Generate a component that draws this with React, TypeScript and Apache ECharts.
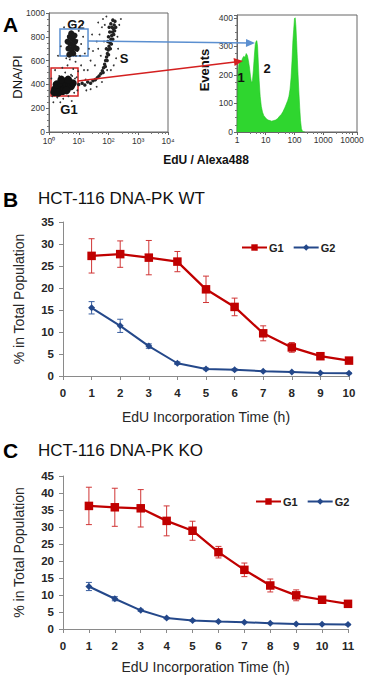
import React, { useEffect, useRef } from 'react';
import * as echarts from 'echarts';

// ---------- Panel A: flow cytometry (EdU / Alexa488 vs DNA/PI) ----------
// dense G1 population core
const g1Core: number[][] = [
  [1.6, 360], [2.0, 385], [2.4, 370], [2.8, 395], [3.2, 365], [3.6, 390], [2.2, 340],
  [2.9, 345], [4.2, 375], [1.8, 400], [2.5, 415], [3.4, 420], [4.8, 400], [1.5, 335],
  [2.0, 330], [5.5, 385], [3.9, 350], [6.3, 410], [2.6, 440], [4.4, 440],
];
// dense G2 population core
const g2Core: number[][] = [
  [4.5, 700], [5.2, 740], [5.8, 690], [6.2, 780], [5.0, 800], [6.8, 720], [4.2, 760],
  [7.5, 760], [5.6, 830], [6.5, 660], [4.8, 650], [8.5, 700], [7.2, 810],
];
// S-phase arc
const sBand: number[][] = [
  [10, 400], [13, 410], [16, 395], [20, 420], [25, 410], [30, 430], [36, 440], [42, 455],
  [48, 470], [55, 490], [62, 515], [68, 540], [74, 570], [80, 600], [86, 630], [92, 660],
  [98, 690], [104, 720], [112, 750], [120, 780], [128, 810], [136, 840], [145, 870],
  [155, 900], [165, 930], [150, 820], [140, 780], [125, 740], [115, 700], [100, 650],
  [90, 600], [78, 550], [66, 500], [175, 880], [160, 850], [130, 880], [110, 840],
  [100, 800], [95, 760], [85, 700], [120, 910], [140, 940], [105, 880],
];
// sparse events
const sparseEvents: number[][] = [
  [1.3, 300], [1.2, 450], [1.9, 290], [3.0, 280], [4.5, 300], [7, 330], [9, 350], [8.5, 460],
  [5.5, 480], [3.5, 500], [6.5, 530], [4.2, 560], [9.5, 510], [7.8, 590], [5, 610], [12, 560],
  [15, 520], [11, 640], [3.8, 620], [9, 680], [12, 740], [14, 800], [10, 850], [3.2, 880],
  [6, 900], [8, 640], [20, 520], [25, 600], [30, 680], [40, 760], [50, 820], [60, 880],
  [45, 700], [35, 560], [55, 640], [70, 760], [75, 900], [65, 950], [85, 970], [200, 800],
  [210, 700], [180, 620], [150, 560], [120, 520], [230, 900], [18, 350], [25, 360], [40, 380],
  [60, 420], [2.2, 470], [1.6, 520], [2.8, 540], [1.4, 250], [2.4, 250], [5.8, 260], [22, 700],
  [28, 820], [16, 660], [9, 770], [2.5, 720], [2.0, 640], [13, 900], [45, 920], [90, 520],
  [260, 950], [17, 440], [7.5, 450], [4, 460], [6, 470],
];
// gates [xMin, yMin, xMax, yMax]
const gateG2 = [2.34, 639, 20.5, 866];
const gateG1 = [1.17, 303, 9.44, 538];

// EdU histogram
const histEdU = [
  1.0, 1.04, 1.08, 1.15, 1.25, 1.4, 1.55, 1.7, 1.9, 2.1, 2.3, 2.5, 2.7, 2.95, 3.2, 3.45, 3.7,
  4.0, 4.3, 4.6, 4.9, 5.2, 5.5, 5.9, 6.4, 7.0, 7.7, 8.5, 9.5, 10.5, 12, 14, 16, 19, 22, 26,
  30, 35, 40, 46, 52, 58, 64, 70, 76, 82, 88, 94, 100, 106, 112, 118, 125, 133, 142, 152,
  162, 174, 188, 205, 230,
];
const histEvents = [
  0, 60, 200, 235, 250, 245, 258, 265, 262, 275, 268, 250, 228, 195, 172, 180, 215,
  265, 305, 318, 320, 300, 245, 180, 125, 90, 70, 58, 52, 46, 42, 40, 38, 40, 42, 47,
  55, 62, 72, 85, 98, 110, 125, 150, 190, 250, 320, 360, 398, 400, 370, 320, 260, 200,
  140, 85, 40, 12, 3, 1, 0,
];

// ---------- Panel B: HCT-116 DNA-PK WT ----------
const wtHours = [1, 2, 3, 4, 5, 6, 7, 8, 9, 10];
const wtG1 = [27.3, 27.7, 26.9, 26.0, 19.7, 15.7, 9.7, 6.5, 4.5, 3.5];
const wtG1Err = [3.9, 3.0, 3.9, 2.3, 3.0, 2.0, 1.7, 1.1, 0.5, 0.3];
const wtG2 = [15.5, 11.4, 6.8, 2.9, 1.6, 1.4, 1.1, 0.9, 0.7, 0.6];
const wtG2Err = [1.4, 1.5, 0.5, 0.3, 0.2, 0.2, 0.1, 0.1, 0.1, 0.1];

// ---------- Panel C: HCT-116 DNA-PK KO ----------
const koHours = [1, 2, 3, 4, 5, 6, 7, 8, 9, 10, 11];
const koG1 = [36.2, 35.8, 35.5, 31.8, 28.9, 22.6, 17.4, 12.8, 9.9, 8.6, 7.4];
const koG1Err = [5.5, 5.6, 5.5, 4.4, 2.8, 1.7, 2.0, 1.9, 1.6, 0.5, 0.5];
const koG2 = [12.5, 8.9, 5.5, 3.2, 2.5, 2.2, 2.0, 1.7, 1.5, 1.4, 1.3];
const koG2Err = [1.2, 0.6, 0.3, 0.2, 0.2, 0.1, 0.1, 0.1, 0.1, 0.1, 0.1];

const FONT = '"Liberation Sans", Arial, sans-serif';
const RED = '#C00000';
const BLUE = '#24488A';
const AXIS_GREY = '#8a8a8a';

const zip = (xs: number[], ys: number[]) => xs.map((x, i) => [x, ys[i]]);
const errRange = (xs: number[], ys: number[], es: number[]) =>
  xs.map((x, i) => [x, ys[i] - es[i], ys[i] + es[i]]);

const SUP = ['\u2070', '\u00B9', '\u00B2', '\u00B3', '\u2074'];
const decadeExp = (v: number) => {
  const l = Math.log10(v);
  const e = Math.round(l);
  return Math.abs(l - e) < 1e-6 ? e : null;
};

function arrowHead(x1: number, y1: number, x2: number, y2: number, len: number, half: number) {
  const d = Math.hypot(x2 - x1, y2 - y1);
  const ux = (x2 - x1) / d;
  const uy = (y2 - y1) / d;
  const bx = x2 - ux * len;
  const by = y2 - uy * len;
  return [
    [x2, y2],
    [bx - uy * half, by + ux * half],
    [bx + uy * half, by - ux * half],
  ];
}

function errorBars(color: string, xAxisIndex: number, data: number[][]) {
  return {
    type: 'custom',
    xAxisIndex,
    yAxisIndex: xAxisIndex,
    z: 2,
    silent: true,
    encode: { x: 0, y: [1, 2] },
    data,
    renderItem: (_p: any, api: any) => {
      const x = api.value(0);
      const top = api.coord([x, api.value(2)]);
      const bot = api.coord([x, api.value(1)]);
      const w = 3;
      const style = { stroke: color, lineWidth: 1 };
      return {
        type: 'group',
        children: [
          { type: 'line', shape: { x1: top[0], y1: top[1], x2: bot[0], y2: bot[1] }, style },
          { type: 'line', shape: { x1: top[0] - w, y1: top[1], x2: top[0] + w, y2: top[1] }, style },
          { type: 'line', shape: { x1: bot[0] - w, y1: bot[1], x2: bot[0] + w, y2: bot[1] }, style },
        ],
      };
    },
  };
}

function timeAxes(gridIndex: number, maxX: number, maxY: number, nameGap: number) {
  const labelStyle = { fontFamily: FONT, fontSize: 11.5, fontWeight: 'bold', color: '#262626' };
  return {
    x: {
      type: 'value',
      gridIndex,
      min: 0,
      max: maxX,
      interval: 1,
      name: 'EdU Incorporation Time (h)',
      nameLocation: 'middle',
      nameGap,
      nameTextStyle: { fontFamily: FONT, fontSize: 14, color: '#262626' },
      axisLine: { show: true, lineStyle: { color: AXIS_GREY, width: 1 } },
      axisTick: { show: true, length: 4, lineStyle: { color: AXIS_GREY } },
      axisLabel: { ...labelStyle, margin: 11 },
      splitLine: { show: false },
    },
    y: {
      type: 'value',
      gridIndex,
      min: 0,
      max: maxY,
      interval: 5,
      name: '% in Total Population',
      nameLocation: 'middle',
      nameGap: 37,
      nameTextStyle: { fontFamily: FONT, fontSize: 14, color: '#262626' },
      axisLine: { show: true, lineStyle: { color: AXIS_GREY, width: 1 } },
      axisTick: { show: true, length: 4, lineStyle: { color: AXIS_GREY } },
      axisLabel: { ...labelStyle, margin: 9 },
      splitLine: { show: false },
    },
  };
}

export default function App() {
  const ref = useRef<HTMLDivElement>(null);

  useEffect(() => {
    if (!ref.current) return;
    const chart = echarts.init(ref.current, undefined, { renderer: 'svg' });

    const flowLabel = { fontFamily: FONT, fontSize: 8.5, color: '#333' };
    const flowAxisLine = { show: true, lineStyle: { color: '#666', width: 1 } };

    const wtAxes = timeAxes(2, 10, 35, 34);
    const koAxes = timeAxes(3, 11, 45, 31);

    const blueArrow = [88, 41, 255, 43];
    const redArrow = [78, 81, 243, 61];

    const lineSeries = (name: string, xi: number, data: number[][], color: string, symbol: string, size: number, width: number) => ({
      type: 'line',
      name,
      xAxisIndex: xi,
      yAxisIndex: xi,
      data,
      z: 3,
      symbol,
      symbolSize: size,
      showSymbol: true,
      lineStyle: { color, width },
      itemStyle: { color, borderWidth: 0 },
    });

    const legend = (left: number, top: number) => ({
      left,
      top,
      orient: 'horizontal',
      itemWidth: 25,
      itemHeight: 8,
      itemGap: 9,
      data: ['G1', 'G2'],
      textStyle: { fontFamily: FONT, fontSize: 11, fontWeight: 'bold', color: '#222', padding: [0, 0, 0, -3] },
      selectedMode: false,
    });

    const dotStyle = (color: string) => ({ color, opacity: 1, borderWidth: 0 });

    chart.setOption({
      animation: false,
      backgroundColor: '#fff',
      textStyle: { fontFamily: FONT },
      grid: [
        { left: 49, top: 13, width: 119, height: 119, show: true, borderColor: '#666', borderWidth: 1 },
        { left: 237, top: 15, width: 120, height: 117, show: true, borderColor: '#666', borderWidth: 1 },
        { left: 63, top: 222, width: 286, height: 154 },
        { left: 63, top: 476, width: 285, height: 153 },
      ],
      xAxis: [
        {
          type: 'log',
          logBase: 10,
          gridIndex: 0,
          min: 1,
          max: 10000,
          axisLine: flowAxisLine,
          axisTick: { show: true, length: 3, lineStyle: { color: '#666' } },
          minorTick: { show: true, splitNumber: 5, length: 2, lineStyle: { color: '#777' } },
          axisLabel: {
            ...flowLabel,
            margin: 4,
            formatter: (v: number) => {
              const e = decadeExp(v);
              return e === null ? '' : '10' + SUP[e];
            },
          },
          splitLine: { show: false },
        },
        {
          type: 'log',
          logBase: 10,
          gridIndex: 1,
          min: 1,
          max: 14930,
          axisLine: flowAxisLine,
          axisTick: { show: true, length: 3, lineStyle: { color: '#666' } },
          minorTick: { show: true, splitNumber: 5, length: 2, lineStyle: { color: '#777' } },
          axisLabel: {
            ...flowLabel,
            margin: 3,
            formatter: (v: number) => (decadeExp(v) === null ? '' : String(Math.round(v))),
          },
          splitLine: { show: false },
        },
        wtAxes.x,
        koAxes.x,
      ],
      yAxis: [
        {
          type: 'value',
          gridIndex: 0,
          min: 0,
          max: 1000,
          interval: 200,
          axisLine: flowAxisLine,
          axisTick: { show: true, length: 3, lineStyle: { color: '#666' } },
          minorTick: { show: true, splitNumber: 4, length: 2, lineStyle: { color: '#777' } },
          axisLabel: { ...flowLabel, margin: 4, formatter: (v: number) => String(v) },
          splitLine: { show: false },
        },
        {
          type: 'value',
          gridIndex: 1,
          min: 0,
          max: 410,
          interval: 100,
          axisLine: flowAxisLine,
          axisTick: { show: true, length: 3, lineStyle: { color: '#666' } },
          minorTick: { show: true, splitNumber: 4, length: 2, lineStyle: { color: '#777' } },
          axisLabel: {
            ...flowLabel,
            margin: 4,
            formatter: (v: number) => (v % 100 === 0 ? String(v) : ''),
          },
          splitLine: { show: false },
        },
        wtAxes.y,
        koAxes.y,
      ],
      legend: [legend(236, 237), legend(250, 491)],
      series: [
        {
          type: 'line',
          name: 'EdU histogram',
          xAxisIndex: 1,
          yAxisIndex: 1,
          data: zip(histEdU, histEvents),
          showSymbol: false,
          symbol: 'none',
          lineStyle: { color: '#22c822', width: 0.6 },
          areaStyle: { color: '#2fd62f', opacity: 1 },
          z: 2,
        },
        {
          type: 'scatter',
          name: 'sparse',
          xAxisIndex: 0,
          yAxisIndex: 0,
          data: sparseEvents,
          symbolSize: 1.8,
          itemStyle: dotStyle('#333'),
          z: 2,
        },
        {
          type: 'scatter',
          name: 'S phase',
          xAxisIndex: 0,
          yAxisIndex: 0,
          data: sBand,
          symbolSize: 3.5,
          itemStyle: dotStyle('#222'),
          z: 2,
        },
        {
          type: 'scatter',
          name: 'G2 core',
          xAxisIndex: 0,
          yAxisIndex: 0,
          data: g2Core,
          symbolSize: 6,
          itemStyle: dotStyle('#1a1a1a'),
          z: 2,
        },
        {
          type: 'scatter',
          name: 'G1 core',
          xAxisIndex: 0,
          yAxisIndex: 0,
          data: g1Core,
          symbolSize: 8,
          itemStyle: dotStyle('#111'),
          z: 2,
          markArea: {
            silent: true,
            data: [
              [
                { coord: [gateG2[0], gateG2[3]], itemStyle: { color: 'rgba(0,0,0,0)', borderColor: '#5b8fd0', borderWidth: 1.5 } },
                { coord: [gateG2[2], gateG2[1]] },
              ],
              [
                { coord: [gateG1[0], gateG1[3]], itemStyle: { color: 'rgba(0,0,0,0)', borderColor: '#d42020', borderWidth: 1.5 } },
                { coord: [gateG1[2], gateG1[1]] },
              ],
            ],
          },
        },
        errorBars('#d03535', 2, errRange(wtHours, wtG1, wtG1Err)),
        errorBars('#3a5fa0', 2, errRange(wtHours, wtG2, wtG2Err)),
        lineSeries('G1', 2, zip(wtHours, wtG1), RED, 'rect', 8.5, 2.25),
        lineSeries('G2', 2, zip(wtHours, wtG2), BLUE, 'diamond', 7, 2),
        errorBars('#d03535', 3, errRange(koHours, koG1, koG1Err)),
        errorBars('#3a5fa0', 3, errRange(koHours, koG2, koG2Err)),
        lineSeries('G1', 3, zip(koHours, koG1), RED, 'rect', 8.5, 2.25),
        lineSeries('G2', 3, zip(koHours, koG2), BLUE, 'diamond', 7, 2),
      ],
      graphic: [
        // panel letters
        { type: 'text', left: 3, top: 14, style: { text: 'A', font: `bold 21px ${FONT}`, fill: '#000' } },
        { type: 'text', left: 3, top: 189, style: { text: 'B', font: `bold 21px ${FONT}`, fill: '#000' } },
        { type: 'text', left: 3, top: 440, style: { text: 'C', font: `bold 21px ${FONT}`, fill: '#000' } },
        // panel titles
        { type: 'text', left: 38, top: 190, style: { text: 'HCT-116 DNA-PK WT', font: `17px ${FONT}`, fill: '#111' } },
        { type: 'text', left: 38, top: 442, style: { text: 'HCT-116 DNA-PK KO', font: `17px ${FONT}`, fill: '#111' } },
        // flow annotations
        { type: 'text', x: 76, y: 24, style: { text: 'G2', font: `bold 13px ${FONT}`, fill: '#111', align: 'center', verticalAlign: 'middle' } },
        { type: 'text', x: 69, y: 109, style: { text: 'G1', font: `bold 13px ${FONT}`, fill: '#111', align: 'center', verticalAlign: 'middle' } },
        { type: 'text', x: 124, y: 58, style: { text: 'S', font: `bold 13px ${FONT}`, fill: '#111', align: 'center', verticalAlign: 'middle' } },
        { type: 'text', x: 241, y: 77, z: 10, style: { text: '1', font: `bold 13px ${FONT}`, fill: '#111', align: 'center', verticalAlign: 'middle' } },
        { type: 'text', x: 267, y: 68, z: 10, style: { text: '2', font: `bold 13px ${FONT}`, fill: '#111', align: 'center', verticalAlign: 'middle' } },
        {
          type: 'text', x: 17, y: 77, rotation: Math.PI / 2,
          style: { text: 'DNA/PI', font: `13px ${FONT}`, fill: '#111', align: 'center', verticalAlign: 'middle' },
        },
        {
          type: 'text', x: 204, y: 70, rotation: Math.PI / 2,
          style: { text: 'Events', font: `bold 13px ${FONT}`, fill: '#111', align: 'center', verticalAlign: 'middle' },
        },
        { type: 'text', x: 206, y: 160, style: { text: 'EdU / Alexa488', font: `bold 12px ${FONT}`, fill: '#111', align: 'center', verticalAlign: 'middle' } },
        // gate arrows
        {
          type: 'line', z: 9,
          shape: { x1: blueArrow[0], y1: blueArrow[1], x2: blueArrow[2] - 6, y2: blueArrow[3] },
          style: { stroke: '#5b8fd0', lineWidth: 1.5 },
        },
        {
          type: 'polygon', z: 9,
          shape: { points: arrowHead(blueArrow[0], blueArrow[1], blueArrow[2], blueArrow[3], 9, 4) },
          style: { fill: '#5b8fd0' },
        },
        {
          type: 'line', z: 9,
          shape: { x1: redArrow[0], y1: redArrow[1], x2: redArrow[2] - 6, y2: redArrow[3] + 0.7 },
          style: { stroke: '#d42020', lineWidth: 1.5 },
        },
        {
          type: 'polygon', z: 9,
          shape: { points: arrowHead(redArrow[0], redArrow[1], redArrow[2], redArrow[3], 9, 4) },
          style: { fill: '#d42020' },
        },
      ],
    });

    return () => chart.dispose();
  }, []);

  return (
    <div
      ref={ref}
      style={{ position: 'fixed', left: 0, top: 0, width: 371, height: 680, background: '#fff' }}
    />
  );
}
